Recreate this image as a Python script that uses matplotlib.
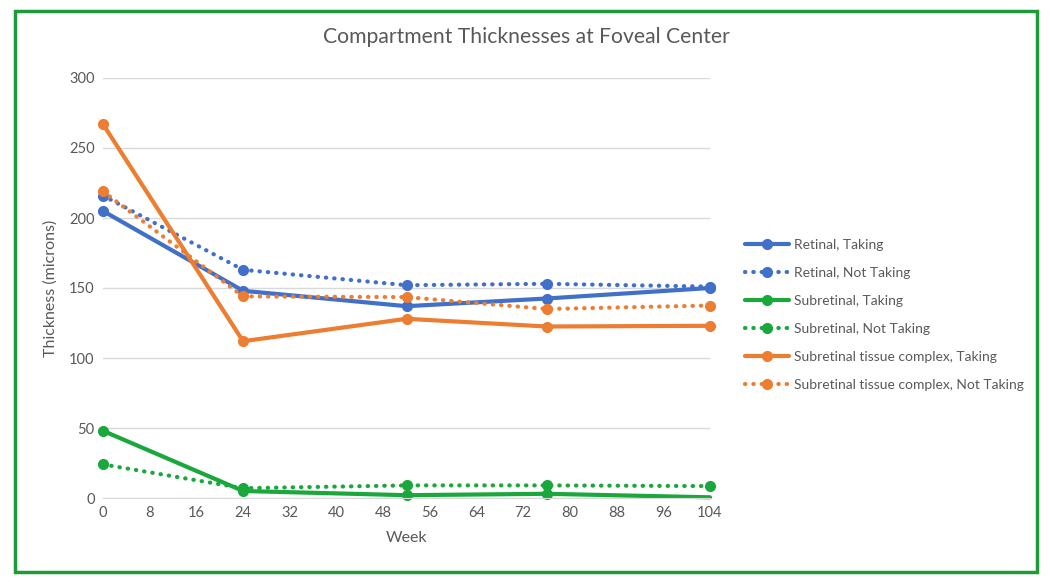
import matplotlib
matplotlib.use("Agg")
import matplotlib.pyplot as plt
from matplotlib.patches import Rectangle

plt.rcParams['font.family'] = ['Lato', 'DejaVu Sans']

weeks = [0, 24, 52, 76, 104]
retinal_taking = [205, 148, 137, 142.5, 150]
retinal_not = [216, 163, 152, 153, 151]
subret_taking = [48, 5, 2, 3, 0.5]
subret_not = [24, 7, 9, 9, 8.5]
stc_taking = [267, 112, 128, 122.5, 123]
stc_not = [219, 144, 143.5, 135, 137.5]

labels = ["Retinal, Taking", "Retinal, Not Taking",
          "Subretinal, Taking", "Subretinal, Not Taking",
          "Subretinal tissue complex, Taking", "Subretinal tissue complex, Not Taking"]
xticks = list(range(0, 105, 8))
yticks = [0, 50, 100, 150, 200, 250, 300]

blue = '#4070c8'
green = '#1aa83c'
orange = '#ed7d31'
txt = '#595959'
dots = (0, (0.1, 1.9))

fig = plt.figure(figsize=(10.5, 5.82), dpi=100)
ax = fig.add_axes([103/1050, 1 - 498/582, (710-103)/1050, (498-78)/582])

series = [
    (retinal_taking, blue, '-'),
    (retinal_not, blue, dots),
    (subret_taking, green, '-'),
    (subret_not, green, dots),
    (stc_taking, orange, '-'),
    (stc_not, orange, dots),
]
for (vals, col, ls), lab in zip(series, labels):
    # last solid green point has no visible marker in the original
    mk = [0, 1, 2, 3] if vals is subret_taking else None
    ax.plot(weeks, vals, color=col, linestyle=ls, lw=3, marker='o', ms=7,
            markevery=mk, label=lab, solid_capstyle='round', dash_capstyle='round',
            clip_on=False)

ax.set_xlim(0, 104)
ax.set_ylim(0, 300)
ax.set_xticks(xticks)
ax.set_yticks(yticks)
ax.grid(axis='y', color='#d9d9d9', lw=1)
ax.set_axisbelow(True)
for s in ['top', 'right', 'left']:
    ax.spines[s].set_visible(False)
ax.spines['bottom'].set_color('#d9d9d9')
ax.tick_params(length=0, colors=txt, labelsize=10.5, pad=6)
ax.set_xlabel('Week', color=txt, fontsize=11.5, labelpad=8)
ax.set_ylabel('Thickness (microns)', color=txt, fontsize=11.5, labelpad=8)
fig.text(526/1050, 1 - 37/582, 'Compartment Thicknesses at Foveal Center',
         ha='center', va='center', color=txt, fontsize=15.2)

leg = ax.legend(loc='center left', bbox_to_anchor=(732/1050, 1 - 315/582),
                bbox_transform=fig.transFigure, frameon=False, fontsize=10,
                labelspacing=1.15, handlelength=3.2, handletextpad=0.35)
for t in leg.get_texts():
    t.set_color(txt)

fig.patches.append(Rectangle((15/1050, 1 - 572/582), (1037-15)/1050, (572-11)/582,
                             transform=fig.transFigure, fill=False,
                             edgecolor='#1f9a3a', lw=2.5))

fig.savefig('out.png', dpi=100)
